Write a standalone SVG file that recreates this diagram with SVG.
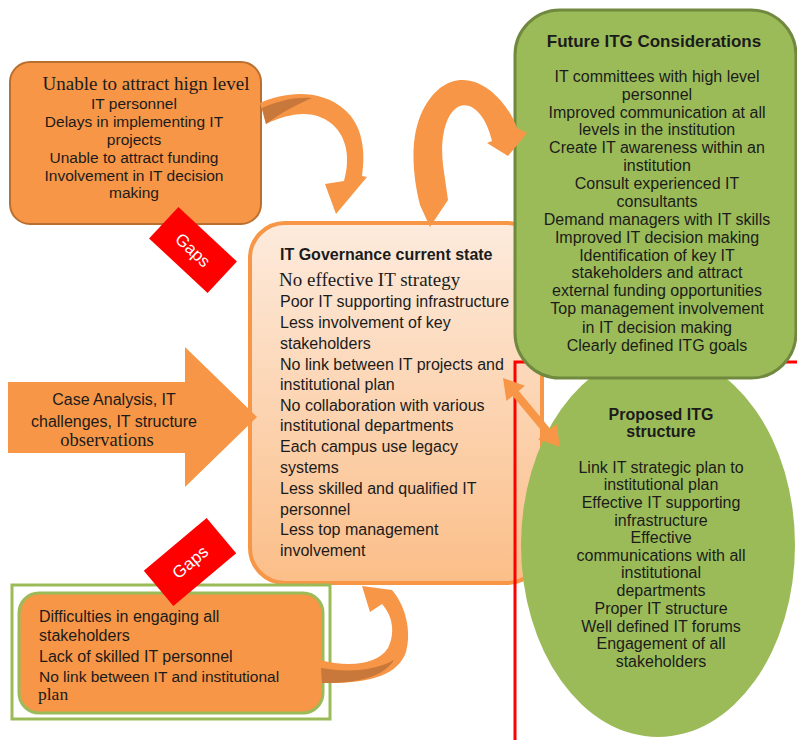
<svg xmlns="http://www.w3.org/2000/svg" width="797" height="740" viewBox="0 0 797 740">
  <defs>
    <linearGradient id="peach" x1="0" y1="0" x2="0" y2="1">
      <stop offset="0" stop-color="#FDEBDD"/>
      <stop offset="1" stop-color="#FBBE88"/>
    </linearGradient>
    <style>
      .sans { font-family: "Liberation Sans", Arial, sans-serif; fill: #1b1b1b; }
      .serif { font-family: "Liberation Serif", "Times New Roman", serif; fill: #1b1b1b; }
      .t16 { font-size: 16px; }
      .bold { font-weight: bold; }
      .mid { text-anchor: middle; }
      .orangebox { fill: #F79646; }
      .arrow { fill: #F79646; }
      .shade { fill: #C8783A; }
      .green { fill: #9BBB59; }
      .gap rect { fill: #FF0000; }
      .gap text { font-family: "Liberation Sans", Arial, sans-serif; font-size: 17px; fill: #ffffff; text-anchor: middle; }
    </style>
  </defs>

  <rect width="797" height="740" fill="#ffffff"/>

  <!-- Top-left gaps box -->
  <g id="gaps-top">
    <rect x="10" y="62" width="251" height="162" rx="20" class="orangebox" stroke="#B9702F" stroke-width="2"/>
    <text class="serif mid" x="146" y="90" font-size="19">Unable to attract hign level</text>
    <text class="sans mid" x="134" y="109" font-size="15.5">IT personnel</text>
    <text class="sans mid" x="134" y="127" font-size="15.5">Delays in implementing IT</text>
    <text class="sans mid" x="134" y="145" font-size="15.5">projects</text>
    <text class="sans mid" x="134" y="163" font-size="15.5">Unable to attract funding</text>
    <text class="sans mid" x="134" y="181" font-size="15.5">Involvement in IT decision</text>
    <text class="sans mid" x="134" y="198" font-size="15.5">making</text>
  </g>

  <!-- Current state box -->
  <g id="current-state">
    <rect x="250" y="223" width="292" height="360" rx="35" fill="url(#peach)" stroke="#F79646" stroke-width="4"/>
    <text class="sans bold t16" x="280" y="260">IT Governance current state</text>
    <text class="serif" x="279" y="286" font-size="19">No effective IT strategy</text>
    <text class="sans t16" x="280" y="307">Poor IT supporting infrastructure</text>
    <text class="sans t16" x="280" y="328">Less involvement of key</text>
    <text class="sans t16" x="280" y="349">stakeholders</text>
    <text class="sans t16" x="280" y="370">No link between IT projects and</text>
    <text class="sans t16" x="280" y="390">institutional plan</text>
    <text class="sans t16" x="280" y="411">No collaboration with various</text>
    <text class="sans t16" x="280" y="431">institutional departments</text>
    <text class="sans t16" x="280" y="452">Each campus use legacy</text>
    <text class="sans t16" x="280" y="473">systems</text>
    <text class="sans t16" x="280" y="494">Less skilled and qualified IT</text>
    <text class="sans t16" x="280" y="515">personnel</text>
    <text class="sans t16" x="280" y="535">Less top management</text>
    <text class="sans t16" x="280" y="556">involvement</text>
  </g>

  <!-- Red frame line -->
  <path d="M515,740 V362 H797" fill="none" stroke="#FF0000" stroke-width="3"/>

  <!-- Proposed structure ellipse -->
  <g id="proposed">
    <ellipse cx="658" cy="545" rx="137" ry="192" class="green"/>
    <text class="sans bold t16 mid" x="661" y="420">Proposed ITG</text>
    <text class="sans bold t16 mid" x="661" y="437">structure</text>
    <text class="sans t16 mid" x="661" y="473">Link IT strategic plan to</text>
    <text class="sans t16 mid" x="661" y="490">institutional plan</text>
    <text class="sans t16 mid" x="661" y="508">Effective IT supporting</text>
    <text class="sans t16 mid" x="661" y="526">infrastructure</text>
    <text class="sans t16 mid" x="661" y="543">Effective</text>
    <text class="sans t16 mid" x="661" y="561">communications with all</text>
    <text class="sans t16 mid" x="661" y="578">institutional</text>
    <text class="sans t16 mid" x="661" y="596">departments</text>
    <text class="sans t16 mid" x="661" y="614">Proper IT structure</text>
    <text class="sans t16 mid" x="661" y="632">Well defined IT forums</text>
    <text class="sans t16 mid" x="661" y="649">Engagement of all</text>
    <text class="sans t16 mid" x="661" y="667">stakeholders</text>
  </g>

  <!-- Future considerations box -->
  <g id="future">
    <rect x="515" y="10" width="281" height="368" rx="45" class="green" stroke="#71893F" stroke-width="3"/>
    <text class="sans bold mid" x="654" y="47" font-size="17">Future ITG Considerations</text>
    <text class="sans t16 mid" x="657" y="82">IT committees with high level</text>
    <text class="sans t16 mid" x="657" y="100">personnel</text>
    <text class="sans t16 mid" x="657" y="118">Improved communication at all</text>
    <text class="sans t16 mid" x="657" y="135">levels in the institution</text>
    <text class="sans t16 mid" x="657" y="153">Create IT awareness within an</text>
    <text class="sans t16 mid" x="657" y="171">institution</text>
    <text class="sans t16 mid" x="657" y="189">Consult experienced IT</text>
    <text class="sans t16 mid" x="657" y="207">consultants</text>
    <text class="sans t16 mid" x="657" y="225">Demand managers with IT skills</text>
    <text class="sans t16 mid" x="657" y="243">Improved IT decision making</text>
    <text class="sans t16 mid" x="657" y="261">Identification of key IT</text>
    <text class="sans t16 mid" x="657" y="278">stakeholders and attract</text>
    <text class="sans t16 mid" x="657" y="296">external funding opportunities</text>
    <text class="sans t16 mid" x="657" y="314">Top management involvement</text>
    <text class="sans t16 mid" x="657" y="333">in IT decision making</text>
    <text class="sans t16 mid" x="657" y="351">Clearly defined ITG goals</text>
  </g>

  <!-- Input block arrow -->
  <g id="case-analysis">
    <path d="M8,382 L185,382 L185,347 L257,417 L185,487 L185,453 L8,453 Z" class="arrow"/>
    <text class="sans t16 mid" x="114" y="405">Case Analysis, IT</text>
    <text class="sans t16 mid" x="114" y="427">challenges, IT structure</text>
    <text class="serif mid" x="107" y="446" font-size="18.5">observations</text>
  </g>

  <!-- Bottom-left gaps box -->
  <g id="gaps-bottom">
    <rect x="12" y="585" width="318" height="134" fill="#ffffff" stroke="#9BBB59" stroke-width="3"/>
    <rect x="19" y="593" width="304" height="120" rx="20" class="orangebox" stroke="#9BBB59" stroke-width="3"/>
    <text class="sans t16" x="39" y="622">Difficulties in engaging all</text>
    <text class="sans t16" x="39" y="641">stakeholders</text>
    <text class="sans t16" x="39" y="662">Lack of skilled IT personnel</text>
    <text class="sans" x="39" y="682" font-size="15.5">No link between IT and institutional</text>
    <text class="serif" x="38" y="700" font-size="17.5">plan</text>
  </g>

  <!-- Gap labels -->
  <g id="gap-label-1" class="gap" transform="translate(193,250) rotate(43)">
    <rect x="-40" y="-21.5" width="80" height="43"/>
    <text y="6">Gaps</text>
  </g>
  <g id="gap-label-2" class="gap" transform="translate(190,562) rotate(-40)">
    <rect x="-41" y="-23" width="82" height="46"/>
    <text y="6">Gaps</text>
  </g>

  <!-- Connectors -->
  <g id="connectors">
    <!-- top-left gaps to current state -->
    <path class="arrow" d="M260,103 C285,92 320,88 345,110 C362,125 366,150 362,176 L367,177 L336,214 L325,184 L344,181 C350,160 348,138 332,124 C312,108 288,114 266,124 Z"/>
    <path class="shade" d="M262,108 C280,100 296,97 312,98 C298,104 282,112 266,124 Z"/>
    <!-- current state to future considerations -->
    <path class="arrow" d="M430,227 L420,205 C410,165 408,115 440,88 C470,65 505,95 517,128 L527,133 L508,156 L487,143 L492,141 C486,115 472,102 460,106 C445,112 440,140 443,165 L448,200 Z"/>
    <!-- bottom-left gaps to current state -->
    <path class="arrow" d="M362,586 L392,590 C405,605 412,630 406,652 C398,675 370,684 322,683 L320,660 C350,668 378,664 388,648 C396,632 392,615 382,604 L370,612 Z"/>
    <path class="shade" d="M321,668 C350,673 376,670 394,660 C384,676 362,683 322,683 Z"/>
    <!-- current state to proposed structure -->
    <path class="arrow" d="M503,378 L524.9,385.8 L518.8,390.9 L550.4,429.1 L556.6,424 L560,447 L538,439.2 L544.2,434.1 L512.6,395.9 L506.4,401 Z"/>
  </g>
</svg>
